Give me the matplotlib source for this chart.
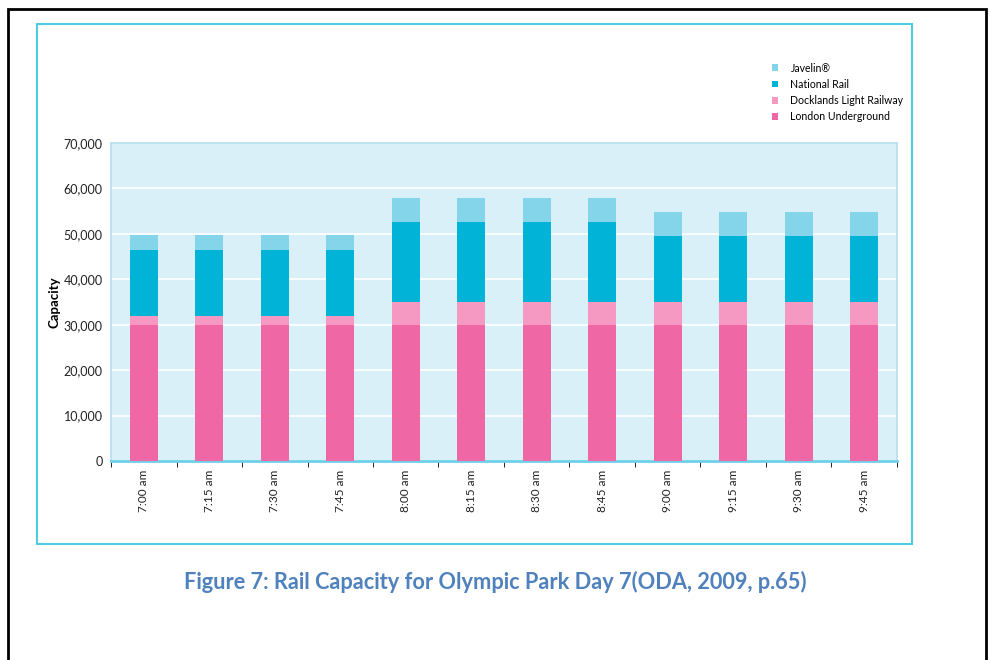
import matplotlib.pyplot as plt
import numpy as np
from matplotlib.patches import Rectangle
from matplotlib.ticker import FuncFormatter

# Data
times = ['7:00 am', '7:15 am', '7:30 am', '7:45 am', '8:00 am', '8:15 am',
         '8:30 am', '8:45 am', '9:00 am', '9:15 am', '9:30 am', '9:45 am']
underground = [30000] * 12
dlr = [2000, 2000, 2000, 2000, 5000, 5000, 5000, 5000, 5000, 5000, 5000, 5000]
national_rail = [14500, 14500, 14500, 14500, 17600, 17600, 17600, 17600,
                 14500, 14500, 14500, 14500]
javelin = [3200, 3200, 3200, 3200, 5300, 5300, 5300, 5300,
           5300, 5300, 5300, 5300]

col_lu = '#ef68a5'
col_dlr = '#f598c2'
col_nr = '#00b3d7'
col_jav = '#84d4ea'

plt.rcParams['font.family'] = ['Lato', 'DejaVu Sans']

fig = plt.figure(figsize=(9.91, 6.6), dpi=100)
W, H = 991, 660

# outer black page frame and teal chart box
fig.add_artist(Rectangle((8 / W, -0.05), (986 - 8) / W, (660 - 9) / H + 0.05,
                         transform=fig.transFigure, fill=False,
                         edgecolor='black', linewidth=2))
fig.add_artist(Rectangle((37 / W, 1 - 544 / H), (912 - 37) / W, (544 - 24) / H,
                         transform=fig.transFigure, fill=False,
                         edgecolor='#4dcbe3', linewidth=1.5))

ax = fig.add_axes([111 / W, 1 - 461 / H, (897 - 111) / W, (461 - 143) / H])
ax.set_facecolor('#d9f0f8')

x = np.arange(len(times))
w = 0.43
b1 = np.array(underground)
b2 = b1 + np.array(dlr)
b3 = b2 + np.array(national_rail)
ax.bar(x, javelin, w, bottom=b3, color=col_jav, label='Javelin®', zorder=3)
ax.bar(x, national_rail, w, bottom=b2, color=col_nr, label='National Rail', zorder=3)
ax.bar(x, dlr, w, bottom=b1, color=col_dlr, label='Docklands Light Railway', zorder=3)
ax.bar(x, underground, w, color=col_lu, label='London Underground', zorder=3)

ax.set_xlim(-0.5, len(times) - 0.5)
ax.set_ylim(0, 70000)
ax.set_yticks(range(0, 70001, 10000))
ax.yaxis.set_major_formatter(FuncFormatter(lambda v, p: f'{int(v):,}'))
ax.grid(True, axis='y', color='white', linewidth=1.2, zorder=1)
ax.set_axisbelow(True)

for s in ['top', 'right', 'left']:
    ax.spines[s].set_color('#b5def0')
    ax.spines[s].set_linewidth(1.2)
ax.spines['bottom'].set_color('#6fcfe6')
ax.spines['bottom'].set_linewidth(2)

ax.set_xticks(x)
ax.set_xticklabels(times, rotation=90, fontsize=8.5, color='#222222')
ax.set_xticks(np.arange(-0.5, len(times), 1), minor=True)
ax.tick_params(axis='x', which='major', length=0, pad=6)
ax.tick_params(axis='x', which='minor', length=4, color='black', direction='out')
ax.tick_params(axis='y', length=0, labelsize=9, colors='#222222', pad=6)
ax.set_ylabel('Capacity', fontsize=9.5, fontweight='bold', labelpad=2)

h, l = ax.get_legend_handles_labels()
fig.legend(h, l, loc='upper left', bbox_to_anchor=(762 / W, 1 - 53 / H),
           frameon=False, fontsize=7.6, handlelength=0.6, handleheight=0.6,
           handletextpad=1.2, labelspacing=0.5)

fig.text(495 / W, 1 - 582 / H, 'Figure 7: Rail Capacity for Olympic Park Day 7(ODA, 2009, p.65)',
         ha='center', va='center', fontsize=15.7, fontweight='bold', color='#4f81bd')

fig.savefig('out.png', dpi=100)
